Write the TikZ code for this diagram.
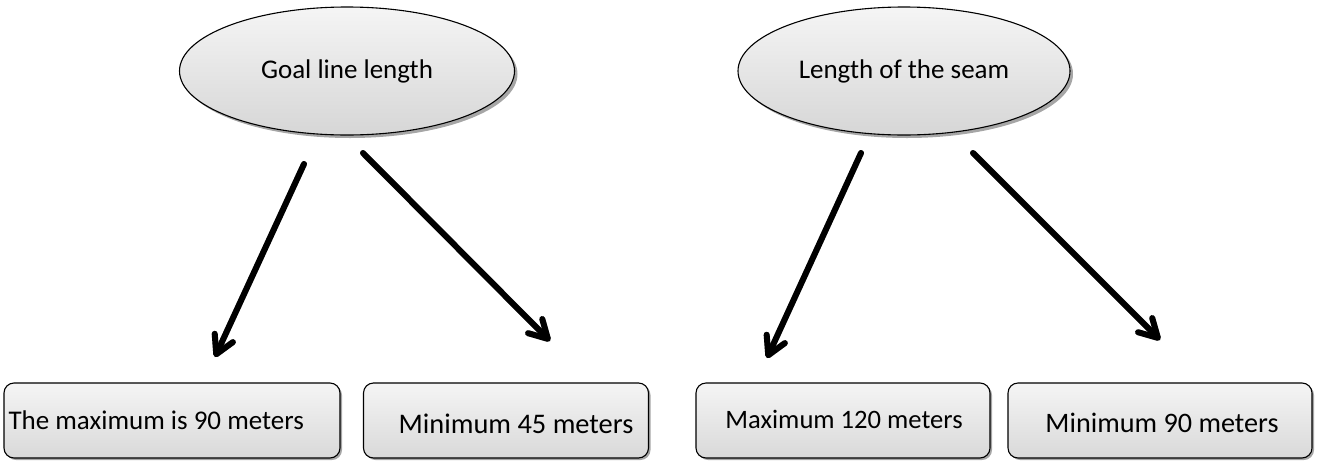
\documentclass[tikz,border=0pt]{standalone}
\usepackage{fontspec}
\setmainfont{Carlito}
\usetikzlibrary{shadows,arrows.meta,shapes.geometric}
\begin{document}
\begin{tikzpicture}[x=1pt,y=-1pt,
  label font/.style={font=\fontsize{27}{31}\selectfont},
  topic/.style={ellipse, draw=black, line width=1.1pt,
    top color=gray!8, bottom color=gray!32,
    drop shadow={shadow xshift=3pt, shadow yshift=-3pt, fill=gray!70, opacity=1},
    label font},
  leaf/.style={rectangle, rounded corners=10pt, draw=black, line width=1.1pt,
    top color=gray!8, bottom color=gray!30,
    drop shadow={shadow xshift=2pt, shadow yshift=-2pt, fill=gray!70, opacity=1},
    minimum height=75pt},
  tip/.style={-{Straight Barb[length=18pt, width=20pt, round]}},
  link/.style={line width=6pt, black, line cap=round, tip},
  linkshadow/.style={line width=6pt, gray!55, line cap=round, tip}
]
\useasboundingbox (0,0) rectangle (1317,461);

% header ellipses
\node[topic, minimum width=335pt, minimum height=128pt] (goal) at (347,71) {Goal line length};
\node[topic, minimum width=332pt, minimum height=128pt] (seam) at (904,71) {Length of the seam};

% value boxes
\node[leaf, minimum width=336pt] (max90) at (172,420.5) {};
\node[anchor=base west, font=\fontsize{27}{31}\selectfont] (max90t) at (5,429) {The maximum is 90 meters};
\node[leaf, minimum width=285pt] (min45) at (506,420.5) {};
\node[anchor=base, font=\fontsize{28.4}{32}\selectfont] (min45t) at (516,433) {Minimum 45 meters};
\node[leaf, minimum width=294pt] (max120) at (843,420.5) {};
\node[anchor=base, font=\fontsize{26.6}{30}\selectfont] (max120t) at (844,428) {Maximum 120 meters};
\node[leaf, minimum width=304pt] (min90) at (1160,420.5) {};
\node[anchor=base, font=\fontsize{28.2}{32}\selectfont] (min90t) at (1162,432) {Minimum 90 meters};

% arrow ends
\coordinate (a1s) at (304,164);
\coordinate (a1e) at (215,357);
\coordinate (a2s) at (363,153);
\coordinate (a2e) at (550,341);
\coordinate (a3s) at (861,153);
\coordinate (a3e) at (767,358);
\coordinate (a4s) at (973,153);
\coordinate (a4e) at (1160,340);

% arrow shadows
\begin{scope}[shift={(2.5,2.5)}]
  \draw[linkshadow] (a1s) -- (a1e);
  \draw[linkshadow] (a2s) -- (a2e);
  \draw[linkshadow] (a3s) -- (a3e);
  \draw[linkshadow] (a4s) -- (a4e);
\end{scope}

% arrows
\draw[link] (a1s) -- (a1e);
\draw[link] (a2s) -- (a2e);
\draw[link] (a3s) -- (a3e);
\draw[link] (a4s) -- (a4e);
\end{tikzpicture}
\end{document}
